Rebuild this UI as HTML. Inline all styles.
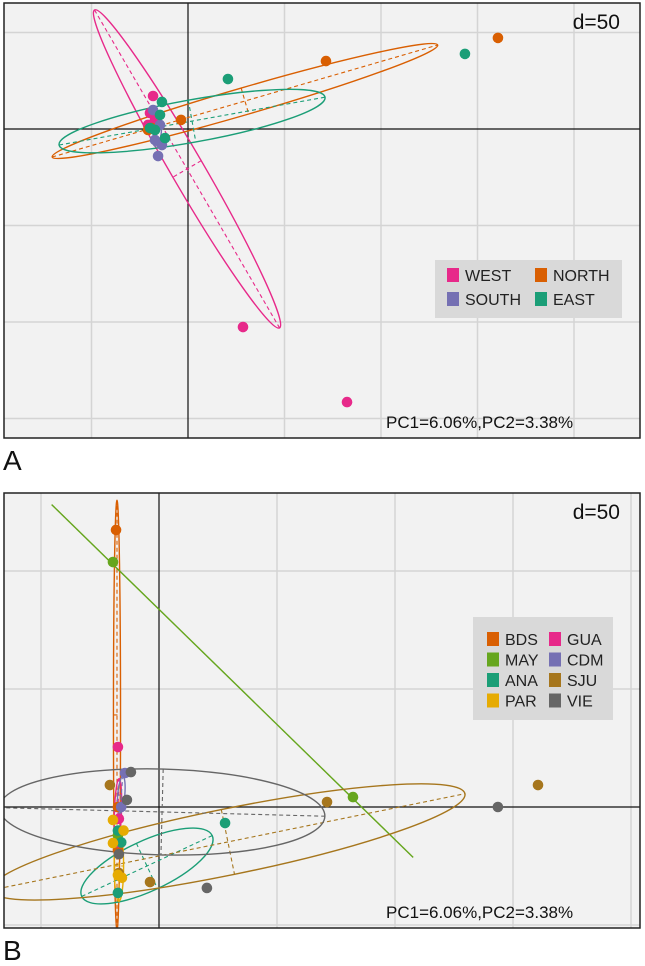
<!DOCTYPE html>
<html><head><meta charset="utf-8">
<style>
body{margin:0;background:#fff;width:645px;height:966px;overflow:hidden;font-family:"Liberation Sans",sans-serif}
svg{position:absolute;left:0;top:0}
</style></head>
<body>
<svg id="chart" width="645" height="966"></svg>
<script>
// ---------- Panel A data (units of PC score, grid = 50) ----------
const aGroups = ["WEST","NORTH","SOUTH","EAST"];
const aColors = ["#E7298A","#D95F02","#7570B3","#1B9E77"];
const aWestX = [28.5,82.4,-18.1,-19.7,-17.1,-20.7];
const aWestY = [-102.6,-141.5,17.1,8.3,4.7,2.1];
const aNorthX = [160.6,71.5,-3.6,-20.7,-18.7];
const aNorthY = [47.2,35.2,4.7,-0.5,0.5];
const aSouthX = [-15.5,-13.5,-17.1,-14.5,-18.1];
const aSouthY = [-14,-8.3,-5.7,2.1,9.8];
const aEastX = [143.5,20.7,-13.5,-14.5,-11.9,-17.1,-19.7];
const aEastY = [38.9,25.9,14,7.3,-4.7,-0.5,0.5];
// ellipses: center x, center y, semi-major, semi-minor, angle (deg, data space)
const aEllCx = [-0.5,29.5,-16,2.1];
const aEllCy = [-20.7,14.5,-3,4.1];
const aEllA = [95.3,104,6,70];
const aEllB = [8.5,7,2,11];
const aEllAng = [-59.8,16.2,80,10.2];

// ---------- Panel B data ----------
const bGroups = ["BDS","GUA","MAY","CDM","ANA","SJU","PAR","VIE"];
const bColors = ["#D95F02","#E7298A","#66A61E","#7570B3","#1B9E77","#A6761D","#E6AB02","#666666"];
const bBdsX=[-18.2,-17.4,-17.4], bBdsY=[117.4,0,-18.2];
const bGuaX=[-17.4,-17,-17.8], bGuaY=[25.4,-5,-15];
const bMayX=[-19.5,82.2,-17.4], bMayY=[103.8,4.2,-12];
const bCdmX=[-14.4,-16], bCdmY=[14.4,0];
const bAnaX=[28,-17.4,-17.4,-16], bAnaY=[-6.8,-36.4,-10,-15];
const bSjuX=[160.6,71.2,-3.8,-20.8,-17], bSjuY=[9.3,2.1,-31.8,9.3,-28];
const bParX=[-19.5,-17.4,-15.7,-19.5,-15], bParY=[-5.5,-28.8,-30,-15.3,-10];
const bVieX=[143.6,20.3,-11.9,-13.6,-17], bVieY=[0,-34.3,14.8,3,-20];
const bEllCx=[-17.8,-17.4,31.1,-16,-5.1,29.2,-17,1.3];
const bEllCy=[39,-2,53.4,5,-25,-14.8,-25,-2.1];
const bEllA=[91,14,107,8,30.5,102.5,15,69];
const bEllB=[1.5,1.5,0,1.5,10.6,14,2,18.2];
const bEllAng=[90,88,-44.3,85,25,11.5,90,-1.5];

const NS="http://www.w3.org/2000/svg";
const svg=document.getElementById('chart');
function mk(tag,attrs,parent){const e=document.createElementNS(NS,tag);for(const k in attrs)e.setAttribute(k,attrs[k]);(parent||svg).appendChild(e);return e;}

function panel(cfg){
  const g=mk('g',{});
  
  
  const sx=v=>cfg.ox+v*cfg.s, sy=v=>cfg.oy-v*cfg.s;
  const clipId=cfg.name+'-clip';
  const cp=mk('clipPath',{id:clipId},g);
  mk('rect',{x:cfg.x0,y:cfg.y0,width:cfg.x1-cfg.x0,height:cfg.y1-cfg.y0},cp);
  const bg=mk('rect',{x:cfg.x0,y:cfg.y0,width:cfg.x1-cfg.x0,height:cfg.y1-cfg.y0,fill:'#f2f2f2'},g);
  
  
  const inner=mk('g',{'clip-path':'url(#'+clipId+')'},g);
  for(const v of cfg.gx){const l=mk('line',{x1:sx(v),x2:sx(v),y1:cfg.y0,y2:cfg.y1,stroke:'#d4d4d4','stroke-width':1.5},inner);
    }
  for(const v of cfg.gy){const l=mk('line',{y1:sy(v),y2:sy(v),x1:cfg.x0,x2:cfg.x1,stroke:'#d4d4d4','stroke-width':1.5},inner);
    }
  const ax=mk('line',{x1:sx(0),x2:sx(0),y1:cfg.y0,y2:cfg.y1,stroke:'#111','stroke-width':1.2},inner);
  
  const ay=mk('line',{y1:sy(0),y2:sy(0),x1:cfg.x0,x2:cfg.x1,stroke:'#111','stroke-width':1.2},inner);
  
  cfg.ell.cx.forEach((cx,i)=>{
    const c=cfg.colors[i], X=sx(cx), Y=sy(cfg.ell.cy[i]), A=cfg.ell.a[i]*cfg.s, B=cfg.ell.b[i]*cfg.s, ang=-cfg.ell.ang[i];
    const eg=mk('g',{transform:`translate(${X},${Y}) rotate(${ang})`},inner);
    
    
    if(B>0.5) mk('ellipse',{cx:0,cy:0,rx:A,ry:B,fill:'none',stroke:c,'stroke-width':1.4},eg);
    else mk('line',{x1:-A,x2:A,y1:0,y2:0,stroke:c,'stroke-width':1.4},eg);
    mk('line',{x1:-A,x2:A,y1:0,y2:0,stroke:c,'stroke-width':1.1,'stroke-dasharray':'4,3'},eg);
    if(B>0.5) mk('line',{x1:0,x2:0,y1:-B,y2:B,stroke:c,'stroke-width':1.1,'stroke-dasharray':'4,3'},eg);
  });
  cfg.pts.forEach((p,i)=>{
    p[0].forEach((x,j)=>{
      const d=mk('circle',{cx:sx(x),cy:sy(p[1][j]),r:5.3,fill:cfg.colors[i]},inner);
      
      
    });
  });
  const bd=mk('rect',{x:cfg.x0,y:cfg.y0,width:cfg.x1-cfg.x0,height:cfg.y1-cfg.y0,fill:'none',stroke:'#222','stroke-width':1.5},g);
  
  const t1=mk('text',{x:cfg.x1-20,y:cfg.y0+26,'font-size':21,'text-anchor':'end',fill:'#111'},g);t1.textContent='d=50';
  
  const t2=mk('text',{x:386,y:cfg.y1-10,'font-size':17,fill:'#111'},g);t2.textContent='PC1=6.06%,PC2=3.38%';
  
  const t3=mk('text',{x:3,y:cfg.y1+32,'font-size':28,fill:'#111'},g);t3.textContent=cfg.letter;
  
  const L=cfg.leg;
  const lg=mk('g',{},g);
  
  mk('rect',{x:L.x,y:L.y,width:L.w,height:L.h,fill:'#d9d9d9'},lg);
  cfg.groups.forEach((n,i)=>{
    const col=i%2,row=Math.floor(i/2);
    const ex=L.x+L.px+col*L.cw, ey=L.y+L.py+row*L.rh;
    const e=mk('g',{},lg);
    
    
    mk('rect',{x:ex,y:ey-7,width:12,height:14,fill:cfg.colors[i]},e);
    const t=mk('text',{x:ex+18,y:ey+6,'font-size':L.fs,fill:'#222'},e);t.textContent=n;
  });
}

panel({name:'panel-a',letter:'A',x0:4,y0:3,x1:640,y1:438,ox:188,oy:129,s:1.93,
  gx:[-50,50,100,150,200],gy:[50,-50,-100,-150],
  groups:aGroups,colors:aColors,
  pts:[[aWestX,aWestY],[aNorthX,aNorthY],[aSouthX,aSouthY],[aEastX,aEastY]],
  ell:{cx:aEllCx,cy:aEllCy,a:aEllA,b:aEllB,ang:aEllAng},
  leg:{x:435,y:260,w:187,h:58,px:12,py:15,cw:88,rh:24,fs:16}});

panel({name:'panel-b',letter:'B',x0:4,y0:493,x1:640,y1:928,ox:159,oy:807,s:2.36,
  gx:[-50,50,100,150,200],gy:[50,100,-50],
  groups:bGroups,colors:bColors,
  pts:[[bBdsX,bBdsY],[bGuaX,bGuaY],[bMayX,bMayY],[bCdmX,bCdmY],[bAnaX,bAnaY],[bSjuX,bSjuY],[bParX,bParY],[bVieX,bVieY]],
  ell:{cx:bEllCx,cy:bEllCy,a:bEllA,b:bEllB,ang:bEllAng},
  leg:{x:473,y:617,w:140,h:103,px:14,py:22,cw:62,rh:20.5,fs:16}});
</script>
</body></html>
